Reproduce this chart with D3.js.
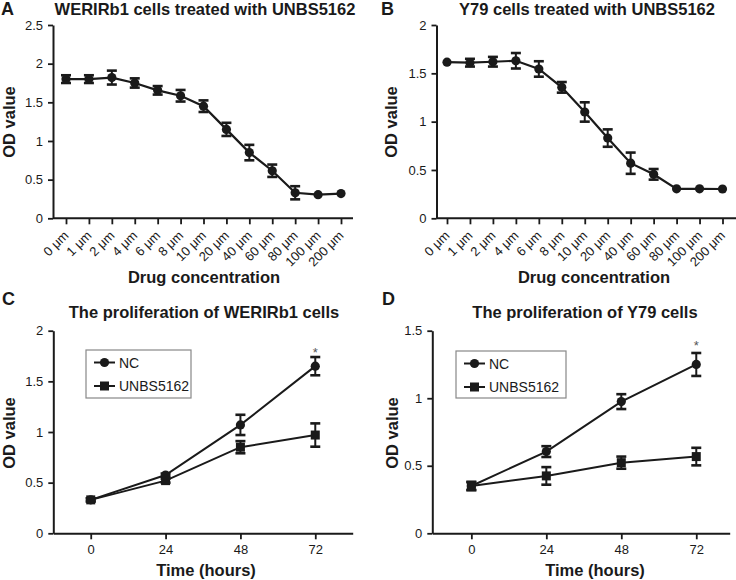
<!DOCTYPE html>
<html><head><meta charset="utf-8">
<script src="https://cdn.jsdelivr.net/npm/d3@7/dist/d3.min.js"></script>
<style>
body{margin:0;background:#fff}
svg{display:block}
text{font-family:"Liberation Sans",Arial,Helvetica,sans-serif;fill:#1a1a1a}
</style>
</head><body>
<svg id="chart" width="736" height="580"></svg>
<script>
// ---------- data ----------
const concLabels = ["0 μm","1 μm","2 μm","4 μm","6 μm","8 μm","10 μm","20 μm","40 μm","60 μm","80 μm","100 μm","200 μm"];
const werirbMean = [1.80,1.80,1.82,1.75,1.655,1.585,1.45,1.15,0.85,0.615,0.33,0.305,0.32];
const werirbErr  = [0.05,0.05,0.09,0.06,0.055,0.075,0.075,0.085,0.10,0.08,0.085,0,0];
const y79Mean = [1.615,1.61,1.62,1.63,1.545,1.355,1.10,0.83,0.57,0.455,0.305,0.305,0.303];
const y79Err  = [0,0.04,0.05,0.08,0.08,0.055,0.10,0.09,0.11,0.055,0,0,0];

const hours = [0,24,48,72];
const werirbNC     = [0.33,0.575,1.07,1.65];
const werirbNCErr  = [0.015,0.015,0.10,0.09];
const werirbUNBS   = [0.33,0.52,0.85,0.97];
const werirbUNBSErr= [0.015,0.02,0.06,0.115];
const y79NC        = [0.35,0.605,0.975,1.25];
const y79NCErr     = [0.03,0.04,0.055,0.085];
const y79UNBS      = [0.35,0.425,0.523,0.568];
const y79UNBSErr   = [0.03,0.065,0.045,0.065];

const yTicksA = [0,0.5,1,1.5,2,2.5];
const yTicksB = [0,0.5,1,1.5,2];
const yTicksC = [0,0.5,1,1.5,2];
const yTicksD = [0,0.5,1,1.5];
const xTicksTime = [0,24,48,72];
const seriesNames = ["NC","UNBS5162"];

// ---------- drawing ----------
const INK = "#1a1a1a";
const svg = d3.select("#chart");
const fmt = d3.format("~g");

function label(x, y, str, size, opts = {}) {
  const t = svg.append("text")
    .attr("x", x).attr("y", y)
    .attr("font-size", size)
    .attr("font-weight", opts.bold ? "bold" : "normal")
    .attr("text-anchor", opts.anchor || "start")
    .text(str);
  if (opts.rotate) t.attr("transform", `rotate(${opts.rotate},${x},${y})`);
  if (opts.fill) t.style("fill", opts.fill);
  return t;
}

function styleAxis(g) {
  g.selectAll("path.domain").attr("stroke", INK).attr("stroke-width", 2);
  g.selectAll(".tick line").attr("stroke", INK).attr("stroke-width", 1.8);
  g.selectAll(".tick text").attr("font-size", 13).style("fill", INK)
    .attr("font-family", '"Liberation Sans",Arial,sans-serif');
}

function drawErr(g, xs, ys, means, errs, capHalf) {
  means.forEach((m, i) => {
    const e = errs[i];
    if (!e) return;
    const x = xs(i), y1 = ys(m - e), y2 = ys(m + e);
    g.append("line").attr("x1", x).attr("x2", x).attr("y1", y1).attr("y2", y2)
      .attr("stroke", INK).attr("stroke-width", 2);
    [y1, y2].forEach(yy => g.append("line")
      .attr("x1", x - capHalf).attr("x2", x + capHalf).attr("y1", yy).attr("y2", yy)
      .attr("stroke", INK).attr("stroke-width", 2.6));
  });
}

function drawMarkers(g, xs, ys, means, shape) {
  means.forEach((m, i) => {
    const x = xs(i), y = ys(m);
    if (shape === "square") {
      g.append("rect").attr("x", x - 4.5).attr("y", y - 4.5).attr("width", 9).attr("height", 9).attr("fill", INK);
    } else {
      g.append("circle").attr("cx", x).attr("cy", y).attr("r", 4.6).attr("fill", INK);
    }
  });
}

function dosePanel(o) {
  const y = d3.scaleLinear().domain([0, o.yMax]).range([218.3, 25]);
  const x = d3.scalePoint().domain(concLabels).range([o.firstPt, o.lastPt]);
  const g = svg.append("g");
  const ya = g.append("g").attr("transform", `translate(${o.axisX},0)`)
    .call(d3.axisLeft(y).tickValues(o.yTicks).tickFormat(fmt).tickSize(5).tickSizeOuter(0).tickPadding(5));
  styleAxis(ya);
  const xa = g.append("g").attr("transform", `translate(0,${y(0)})`)
    .call(d3.axisBottom(x).tickSize(6).tickSizeOuter(0));
  xa.select("path.domain").remove();
  styleAxis(xa);
  xa.selectAll(".tick text").attr("y", 0).attr("dy", 0).attr("x", 0)
    .attr("text-anchor", "end").attr("transform", "translate(3,18) rotate(-45)");
  g.append("line").attr("x1", o.axisX).attr("x2", o.axisEnd).attr("y1", y(0)).attr("y2", y(0))
    .attr("stroke", INK).attr("stroke-width", 2);
  const xs = i => x(concLabels[i]);
  g.append("path").datum(o.mean)
    .attr("d", d3.line().x((d, i) => xs(i)).y(d => y(d)))
    .attr("fill", "none").attr("stroke", INK).attr("stroke-width", 2.2);
  drawErr(g, xs, y, o.mean, o.err, 5);
  drawMarkers(g, xs, y, o.mean, "circle");
  label(o.letterX, 15, o.letter, 18, {bold: true});
  label(o.titleX, 15, o.title, 16.5, {bold: true, anchor: "middle"});
  label(o.xlabX, 283, "Drug concentration", 16.5, {bold: true, anchor: "middle"});
  label(o.ylabX, 122, "OD value", 16.5, {bold: true, anchor: "middle", rotate: -90});
}

function timePanel(o) {
  const y = d3.scaleLinear().domain([0, o.yMax]).range([533.3, 330.7]);
  const x = d3.scaleLinear().domain(o.xDomain).range([o.axisX, o.axisEnd]);
  const g = svg.append("g");
  const ya = g.append("g").attr("transform", `translate(${o.axisX},0)`)
    .call(d3.axisLeft(y).tickValues(o.yTicks).tickFormat(fmt).tickSize(5).tickSizeOuter(0).tickPadding(5));
  styleAxis(ya);
  const xa = g.append("g").attr("transform", `translate(0,${y(0)})`)
    .call(d3.axisBottom(x).tickValues(xTicksTime).tickFormat(fmt).tickSize(6).tickSizeOuter(0).tickPadding(5));
  styleAxis(xa);
  const xs = i => x(hours[i]);
  const line = d3.line().x((d, i) => xs(i)).y(d => y(d));
  [o.nc, o.unbs].forEach(s => g.append("path").datum(s).attr("d", line)
    .attr("fill", "none").attr("stroke", INK).attr("stroke-width", 2));
  drawErr(g, xs, y, o.nc, o.ncErr, 5);
  drawErr(g, xs, y, o.unbs, o.unbsErr, 5);
  drawMarkers(g, xs, y, o.unbs, "square");
  drawMarkers(g, xs, y, o.nc, "circle");
  const last = o.nc.length - 1;
  label(xs(last), o.starY, "*", 13, {anchor: "middle", fill: "#555"});
  const L = o.legend;
  g.append("rect").attr("x", L.x).attr("y", L.y).attr("width", L.w).attr("height", L.h)
    .attr("fill", "#fff").attr("stroke", "#888").attr("stroke-width", 1.2);
  seriesNames.forEach((nm, k) => {
    const yy = L.y + 12.5 + k * 23.5;
    g.append("line").attr("x1", L.x + 8).attr("x2", L.x + 29).attr("y1", yy).attr("y2", yy)
      .attr("stroke", INK).attr("stroke-width", 2);
    const cx = L.x + 18.5;
    if (k === 0) g.append("circle").attr("cx", cx).attr("cy", yy).attr("r", 4.6).attr("fill", INK);
    else g.append("rect").attr("x", cx - 4.5).attr("y", yy - 4.5).attr("width", 9).attr("height", 9).attr("fill", INK);
    g.append("text").attr("x", L.x + 33).attr("y", yy + 5).attr("font-size", 14).text(nm);
  });
  label(o.letterX, 305, o.letter, 18, {bold: true});
  label(o.titleX, 318, o.title, 16.5, {bold: true, anchor: "middle"});
  label(o.xlabX, 576, "Time (hours)", 16.5, {bold: true, anchor: "middle"});
  label(o.ylabX, 433, "OD value", 16.5, {bold: true, anchor: "middle", rotate: -90});
}

dosePanel({axisX: 53, axisEnd: 353, firstPt: 66, lastPt: 341, yMax: 2.5, yTicks: yTicksA,
  mean: werirbMean, err: werirbErr, letter: "A", letterX: 1, title: "WERIRb1 cells treated with UNBS5162",
  titleX: 205, xlabX: 204, ylabX: 15});
dosePanel({axisX: 436.5, axisEnd: 740, firstPt: 447, lastPt: 722.5, yMax: 2, yTicks: yTicksB,
  mean: y79Mean, err: y79Err, letter: "B", letterX: 381, title: "Y79 cells treated with UNBS5162",
  titleX: 587, xlabX: 594, ylabX: 397});
timePanel({axisX: 53.3, axisEnd: 352.7, xDomain: [-12, 84], yMax: 2, yTicks: yTicksC,
  nc: werirbNC, ncErr: werirbNCErr, unbs: werirbUNBS, unbsErr: werirbUNBSErr, starY: 357,
  legend: {x: 86, y: 350, w: 105, h: 48}, letter: "C", letterX: 2, title: "The proliferation of WERIRb1 cells",
  titleX: 204, xlabX: 206, ylabX: 15});
timePanel({axisX: 432.3, axisEnd: 729.7, xDomain: [-12.5, 82.7], yMax: 1.5, yTicks: yTicksD,
  nc: y79NC, ncErr: y79NCErr, unbs: y79UNBS, unbsErr: y79UNBSErr, starY: 350,
  legend: {x: 456, y: 351, w: 110, h: 47}, letter: "D", letterX: 382, title: "The proliferation of Y79 cells",
  titleX: 585, xlabX: 595, ylabX: 398});
</script>
</body></html>
